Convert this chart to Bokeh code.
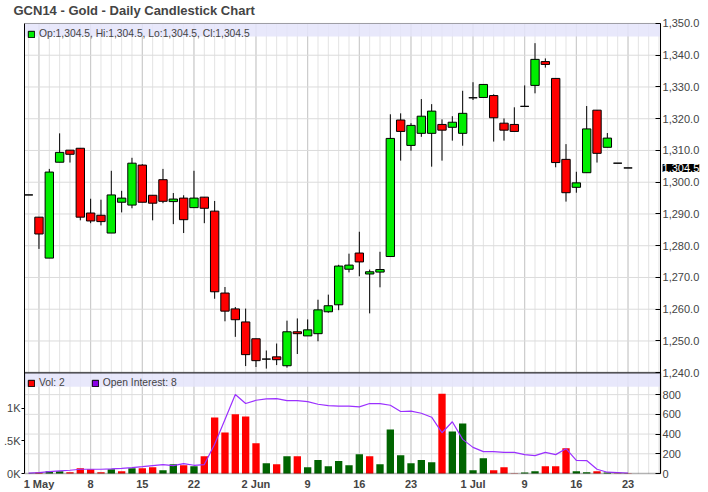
import numpy as np
import pandas as pd
from bokeh.plotting import figure
from bokeh.models import (ColumnDataSource, Range1d, LinearAxis, FixedTicker,
                          BoxAnnotation, Legend, LegendItem, Label,
                          CustomJSTickFormatter)
from bokeh.embed import file_html
from bokeh.resources import INLINE

# ---------------- data ----------------
TITLE = "GCN14 - Gold - Daily Candlestick Chart"
START, END = "2014-04-30", "2014-07-23"
HOLIDAYS = ["2014-05-26", "2014-07-04"]

OPEN = [1296.0, 1289.0, 1276.1, 1306.3, 1310.1, 1310.7, 1290.3, 1289.6, 1284.0, 1293.7,
        1292.8, 1305.4, 1295.9, 1300.8, 1293.9, 1295.0, 1292.0, 1295.3, 1290.9, 1265.1,
        1260.1, 1256.0, 1250.7, 1244.3, 1245.0, 1242.2, 1252.9, 1251.6, 1252.3, 1259.2,
        1261.4, 1272.6, 1277.7, 1271.1, 1271.7, 1276.6, 1319.6, 1311.6, 1315.4, 1315.4,
        1318.2, 1317.3, 1315.4, 1326.6, 1326.7, 1327.3, 1318.6, 1318.2, 1323.9, 1330.5,
        1338.0, 1332.7, 1307.2, 1298.4, 1303.0, 1322.7, 1311.0, 1306.0, 1304.5]
HIGH = [1296.0, 1289.0, 1304.2, 1315.4, 1310.1, 1310.7, 1294.8, 1294.5, 1303.6, 1297.3,
        1307.7, 1305.7, 1295.9, 1304.2, 1296.6, 1295.9, 1303.6, 1295.3, 1294.1, 1267.0,
        1260.7, 1260.2, 1250.7, 1247.0, 1249.2, 1256.4, 1257.1, 1256.8, 1263.0, 1264.6,
        1274.0, 1277.5, 1284.4, 1272.5, 1278.1, 1321.4, 1321.7, 1318.6, 1326.2, 1324.6,
        1319.8, 1320.8, 1328.8, 1331.5, 1330.8, 1327.7, 1320.1, 1323.6, 1330.5, 1343.8,
        1339.0, 1332.7, 1312.0, 1303.3, 1324.0, 1322.7, 1315.5, 1306.0, 1304.5]
LOW = [1296.0, 1279.0, 1276.1, 1306.3, 1306.2, 1288.0, 1287.1, 1286.4, 1284.0, 1290.5,
       1291.8, 1293.7, 1288.0, 1293.4, 1286.8, 1284.0, 1292.0, 1287.1, 1263.3, 1256.2,
       1251.3, 1242.1, 1241.8, 1241.3, 1242.4, 1241.6, 1245.9, 1251.6, 1249.9, 1258.9,
       1259.7, 1271.6, 1270.4, 1258.7, 1266.9, 1276.6, 1306.8, 1309.9, 1314.3, 1304.9,
       1306.8, 1313.1, 1311.5, 1325.9, 1326.7, 1312.8, 1313.1, 1316.0, 1323.9, 1328.0,
       1336.1, 1304.7, 1293.9, 1296.7, 1303.0, 1306.2, 1311.0, 1306.0, 1304.5]
CLOSE = [1296.0, 1283.7, 1303.2, 1309.4, 1308.8, 1289.0, 1287.8, 1287.6, 1296.0, 1295.0,
         1306.0, 1293.7, 1293.4, 1294.0, 1294.7, 1288.2, 1295.0, 1291.8, 1265.5, 1259.4,
         1256.7, 1245.7, 1243.8, 1244.3, 1244.1, 1252.9, 1252.3, 1253.5, 1259.8, 1261.1,
         1273.6, 1273.9, 1274.9, 1271.8, 1272.5, 1313.8, 1316.0, 1317.9, 1320.8, 1322.4,
         1316.4, 1318.9, 1321.7, 1326.6, 1330.8, 1320.3, 1316.4, 1316.0, 1323.9, 1338.7,
         1337.1, 1306.2, 1296.7, 1299.8, 1316.8, 1309.1, 1313.9, 1306.0, 1304.5]
VOLUME = [0, 10, 23, 23, 13, 53, 43, 13, 43, 23,
          53, 53, 63, 33, 94, 84, 74, 175, 568, 417,
          601, 578, 306, 104, 94, 175, 175, 63, 137, 74,
          127, 84, 195, 175, 94, 447, 185, 104, 137, 114,
          810, 427, 508, 33, 154, 33, 63, 2, 10, 23,
          74, 74, 255, 23, 13, 23, 10, 2, 2]
OPEN_INTEREST = [5, 15, 30, 40, 50, 65, 65, 65, 70, 80,
                 91, 106, 122, 137, 122, 152, 126, 137, 446, 827,
                 1207, 1070, 1120, 1141, 1146, 1115, 1115, 1100, 1059, 1039,
                 1029, 1029, 1019, 1070, 1070, 1044, 948, 953, 922, 861,
                 623, 791, 522, 400, 335, 335, 324, 324, 289, 274,
                 324, 289, 380, 202, 198, 65, 20, 15, 8]

TICK_DATES = ["2014-05-01", "2014-05-08", "2014-05-15", "2014-05-22", "2014-06-02",
              "2014-06-09", "2014-06-16", "2014-06-23", "2014-07-01", "2014-07-09",
              "2014-07-16", "2014-07-23"]
TICK_LABELS = ["1 May", "8", "15", "22", "2 Jun", "9", "16", "23", "1 Jul", "9", "16", "23"]
PRICE_TICKS = list(range(1240, 1351, 10))
VOL_TICKS = [0, 200, 400, 600, 800]
OI_TICKS = [0, 500, 1000]
OI_LABELS = ["0K", ".5K", "1K"]
PRICE_MIN, PRICE_MAX = 1240, 1350
VOL_MAX = 1022
OI_MAX = 1541

# ---------------- styling / layout ----------------
FONT = "Liberation Sans"
GREEN = "#00ee00"
RED = "#ff0000"
DKGREEN = "#006400"
PURPLE = "#9b30ff"
LAVENDER = "#e4e4fa"
GRID = "#dcdcdc"
GRID_MINOR_V = "#e3e3e3"
GRID_MAJOR_V = "#c9c9c9"
PRICE_PX, VOL_PX = 350, 101        # heights of the two panels
PAD_T, PAD_B = 8, 8                # extra frame room so edge labels are not clipped
W, H = 708, 492
LEFT_PX, DATA_PX = 23, 637         # chart starts at x=23 and is 637 px wide
LEG_H = 14

days = pd.bdate_range(START, END)
days = days[~days.isin(pd.to_datetime(HOLIDAYS))]
x = np.arange(len(days))
o, h, l, c = (np.array(a, dtype=float) for a in (OPEN, HIGH, LOW, CLOSE))
prev_c = np.concatenate([[c[0]], c[:-1]])
body_col = np.where(c > o, GREEN, np.where(c < o, RED, "black"))
vol_col = np.where(c >= prev_c, DKGREEN, RED)

src = ColumnDataSource(dict(
    x=x, high=h, low=l, top=np.maximum(o, c), bottom=np.minimum(o, c),
    color=body_col, vol=VOLUME, vcolor=vol_col, oi=OPEN_INTEREST))

# value-per-pixel of each scale
u_price = (PRICE_MAX - PRICE_MIN) / PRICE_PX
u_vol = VOL_MAX / VOL_PX
u_oi = OI_MAX / VOL_PX
price_floor = PRICE_MIN - VOL_PX * u_price          # price value at the chart's bottom edge
oi_top = OI_MAX + PRICE_PX * u_oi                   # OI value at the chart's top edge

X_START, X_END = -0.4, 61.15
X_FULL = X_START + (X_END - X_START) * (W - LEFT_PX) / DATA_PX
frame_h = PRICE_PX + VOL_PX + PAD_T + PAD_B

p = figure(width=W, height=H, x_range=Range1d(X_START, X_FULL),
           y_range=Range1d(price_floor - PAD_B * u_price, PRICE_MAX + PAD_T * u_price),
           x_axis_type=None, y_axis_type=None,
           output_backend="svg", toolbar_location=None,
           min_border_left=LEFT_PX, min_border_right=0,
           min_border_top=23 - PAD_T, min_border_bottom=18 - PAD_B,
           background_fill_color="white", border_fill_color="white",
           outline_line_color=None)
p.extra_y_ranges = {
    "vol": Range1d(-PAD_B * u_vol, VOL_MAX + (PRICE_PX + PAD_T) * u_vol),
    "oi": Range1d(-PAD_B * u_oi, OI_MAX + (PRICE_PX + PAD_T) * u_oi)}

p.title.text = TITLE
p.title.text_font = FONT
p.title.text_font_size = "13px"
p.title.text_font_style = "bold"
p.title.align = "left"
p.title.offset = -11
p.title.standoff = 3 - PAD_T

# legend bands
p.add_layout(BoxAnnotation(top=PRICE_MAX, bottom=PRICE_MAX - 13 * u_price,
                           left=X_START, right=X_END,
                           fill_color=LAVENDER, fill_alpha=0.85, line_color=None,
                           level="underlay"))
p.add_layout(BoxAnnotation(top=VOL_MAX, bottom=VOL_MAX - 14 * u_vol,
                           left=X_START, right=X_END, y_range_name="vol",
                           fill_color=LAVENDER, fill_alpha=0.85, line_color=None,
                           level="underlay"))

# grid lines (kept inside the chart area)
tick_idx = [int(np.where(days == pd.Timestamp(d))[0][0]) for d in TICK_DATES]
all_days_ticks = list(range(0, int(X_END) + 1))
p.segment(x0=all_days_ticks, x1=all_days_ticks, y0=price_floor, y1=PRICE_MAX,
          line_color=GRID_MINOR_V, line_width=1, level="underlay")
p.segment(x0=tick_idx, x1=tick_idx, y0=price_floor, y1=PRICE_MAX,
          line_color=GRID_MAJOR_V, line_width=1, level="underlay")
p.segment(x0=X_START, x1=X_END, y0=PRICE_TICKS, y1=PRICE_TICKS,
          line_color=GRID, line_width=1, level="underlay")
p.segment(x0=X_START, x1=X_END, y0=VOL_TICKS[1:], y1=VOL_TICKS[1:], y_range_name="vol",
          line_color=GRID, line_width=1, level="underlay")

# candles
p.segment("x", "high", "x", "low", source=src, line_color="black", line_width=1)
p.vbar(x="x", width=0.81, top="top", bottom="bottom", source=src,
       fill_color="color", line_color="black", line_width=1)

# volume and open interest
p.vbar(x="x", width=0.71, top="vol", bottom=0, source=src, y_range_name="vol",
       fill_color="vcolor", line_color=None)
p.line("x", "oi", source=src, y_range_name="oi", line_color=PURPLE, line_width=1.2)

# panel borders and separator
p.add_layout(BoxAnnotation(top=PRICE_MAX, bottom=PRICE_MIN, left=X_START, right=X_END,
                           fill_alpha=0, line_color="black", line_width=1, level="overlay"))
p.add_layout(BoxAnnotation(top=VOL_MAX, bottom=0, left=X_START, right=X_END,
                           y_range_name="vol", fill_alpha=0, line_color="black",
                           line_width=1.5, level="overlay"))
p.add_layout(BoxAnnotation(top=PRICE_MIN, bottom=PRICE_MIN, left=X_START, right=X_END,
                           fill_alpha=0, line_color="black", line_width=2, level="overlay"))

# axes
xaxis = LinearAxis(ticker=FixedTicker(ticks=tick_idx), bounds=(X_START, X_END),
                   major_label_overrides={int(i): t for i, t in zip(tick_idx, TICK_LABELS)},
                   major_label_text_font=FONT, major_label_text_font_size="11px",
                   major_label_text_font_style="bold", major_tick_in=0, major_tick_out=0,
                   major_label_standoff=4 - PAD_B, axis_line_color=None)
p.add_layout(xaxis, "below")

right_fmt = CustomJSTickFormatter(
    args=dict(pmin=PRICE_MIN, floor=price_floor, up=u_price, uv=u_vol),
    code=r"""
if (tick >= pmin - 1e-6) {
  return tick.toFixed(1).replace(/\B(?=(\d{3})+(?!\d))/g, ",");
}
const v = (tick - floor) / up * uv;
return Math.round(v).toString();
""")
right_ticks = PRICE_TICKS + [price_floor + v / u_vol * u_price for v in VOL_TICKS]
raxis = LinearAxis(ticker=FixedTicker(ticks=right_ticks), formatter=right_fmt,
                   fixed_location=X_END, bounds=(price_floor, PRICE_MAX),
                   major_label_text_font=FONT, major_label_text_font_size="11px",
                   major_tick_in=5, major_tick_out=0, major_label_standoff=2,
                   axis_line_color="black", axis_line_width=1)
p.add_layout(raxis, "right")

laxis = LinearAxis(y_range_name="oi", ticker=FixedTicker(ticks=OI_TICKS), bounds=(0, oi_top),
                   major_label_overrides=dict(zip(OI_TICKS, OI_LABELS)),
                   major_label_text_font=FONT, major_label_text_font_size="11px",
                   major_tick_in=0, major_tick_out=3, major_label_standoff=1,
                   axis_line_color="black", axis_line_width=1)
p.add_layout(laxis, "left")

# legends (key glyphs only, no data drawn)
nan = [np.nan]
r_price = p.quad(left=nan, right=nan, top=nan, bottom=nan, fill_color=GREEN, line_color="black")
r_vol = p.quad(left=nan, right=nan, top=nan, bottom=nan, fill_color=RED, line_color="black")
r_oi = p.quad(left=nan, right=nan, top=nan, bottom=nan, fill_color="#8a00e6", line_color="black")

price_label = f"Op:{o[-1]:,.1f}, Hi:{h[-1]:,.1f}, Lo:{l[-1]:,.1f}, Cl:{c[-1]:,.1f}"
leg1 = Legend(items=[LegendItem(label=price_label, renderers=[r_price])],
              location=(3, frame_h - PAD_T - 3 - LEG_H), orientation="horizontal",
              background_fill_alpha=0, border_line_color=None,
              label_text_font=FONT, label_text_font_size="10.3px",
              glyph_width=8, glyph_height=8, label_height=8, label_standoff=4,
              padding=2, margin=0, spacing=0)
p.add_layout(leg1)

leg2 = Legend(items=[LegendItem(label=f"Vol: {VOLUME[-1]}", renderers=[r_vol]),
                     LegendItem(label=f"Open Interest: {OPEN_INTEREST[-1]}", renderers=[r_oi])],
              location=(3, 85 + PAD_B), orientation="horizontal",
              background_fill_alpha=0, border_line_color=None,
              label_text_font=FONT, label_text_font_size="10.3px",
              glyph_width=8, glyph_height=8, label_height=8, label_standoff=4,
              padding=2, margin=0, spacing=26)
p.add_layout(leg2)

# last price tag on the price scale
p.add_layout(Label(x=X_END, y=c[-1], text=f"{c[-1]:,.1f}", x_offset=2,
                   text_baseline="middle", text_align="left", text_color="white",
                   text_font=FONT, text_font_size="11px",
                   background_fill_color="black", background_fill_alpha=1.0))

open("out.html", "w").write(file_html(p, INLINE))
